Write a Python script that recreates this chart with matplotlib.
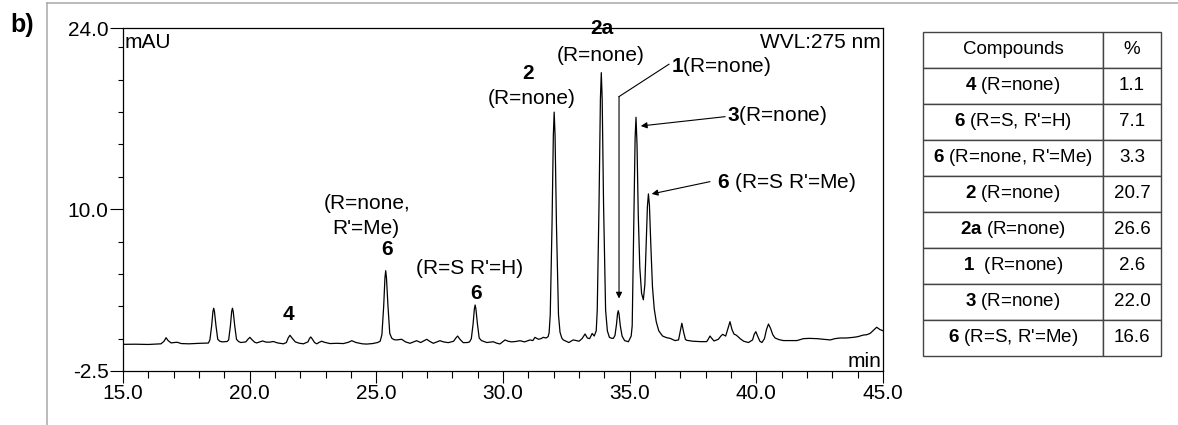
"""HPLC chromatogram with compound table"""
import matplotlib
matplotlib.use('Agg')
import matplotlib.pyplot as plt
from matplotlib.ticker import MultipleLocator, FixedLocator, FormatStrFormatter
from matplotlib.lines import Line2D

plt.rcParams['font.family'] = ['Liberation Sans', 'DejaVu Sans']
plt.rcParams['mathtext.fontset'] = 'custom'
plt.rcParams['mathtext.rm'] = 'Liberation Sans'
plt.rcParams['mathtext.bf'] = 'Liberation Sans:bold'
plt.rcParams['axes.unicode_minus'] = False

# trace (time in min, signal in mAU)
time_min = [
    15.0, 15.5, 16.0, 16.3, 16.5, 16.62, 16.70, 16.78, 16.9, 17.02, 17.14, 17.3, 17.6, 18.04, 18.25,
    18.37, 18.43, 18.50, 18.55, 18.58, 18.61, 18.67, 18.74, 18.82, 18.92,
    19.11, 19.17, 19.24, 19.29, 19.32, 19.35, 19.41, 19.48, 19.56, 19.65,
    19.85, 19.93, 20.01, 20.1, 20.2, 20.28, 20.4, 20.51, 20.65, 20.8, 20.93, 21.1, 21.33,
    21.45, 21.52, 21.59, 21.67, 21.8, 21.95, 22.12,
    22.3, 22.36, 22.41, 22.48, 22.56, 22.65, 22.75, 22.84, 22.95, 23.17, 23.44, 23.7, 23.9,
    24.03, 24.2, 24.45, 24.62, 24.85, 25.05,
    25.15, 25.22, 25.29, 25.34, 25.37, 25.40, 25.46, 25.53, 25.61, 25.7, 25.8, 26.0, 26.15,
    26.33, 26.59, 26.75, 26.99, 27.1, 27.25, 27.51, 27.65, 27.84, 28.05, 28.14, 28.21, 28.3,
    28.43, 28.6, 28.68, 28.75, 28.82, 28.87, 28.9, 28.93, 28.99, 29.06, 29.15, 29.36, 29.62,
    29.75, 29.88, 30.08, 30.2, 30.34, 30.5, 30.67, 30.85, 31.07, 31.18, 31.26, 31.4, 31.5,
    31.59, 31.7, 31.78,
    31.82, 31.865, 31.935, 31.987, 32.02, 32.055, 32.11, 32.19, 32.25, 32.32,
    32.38, 32.6, 32.77, 32.9, 33.0, 33.12, 33.24, 33.33, 33.42, 33.52, 33.6,
    33.68, 33.72, 33.79, 33.845, 33.88, 33.915, 33.97, 34.05, 34.12, 34.2, 34.3, 34.36,
    34.42, 34.48, 34.52, 34.55, 34.58, 34.63, 34.7, 34.8, 34.95,
    35.06, 35.1, 35.16, 35.215, 35.25, 35.29, 35.34, 35.40, 35.47, 35.54,
    35.6, 35.65, 35.7, 35.74, 35.78, 35.84, 35.9, 35.97, 36.05, 36.15, 36.3, 36.45, 36.6,
    36.79, 36.93, 36.99, 37.06, 37.13, 37.2, 37.25, 37.5, 37.78, 38.04, 38.1, 38.17, 38.25,
    38.33, 38.5, 38.6, 38.67, 38.79, 38.88, 38.96, 39.04, 39.12, 39.2, 39.28, 39.36, 39.5,
    39.69, 39.85, 39.92, 39.98, 40.05, 40.14, 40.22, 40.32, 40.4, 40.48, 40.56, 40.65, 40.74,
    40.9, 41.07, 41.3, 41.6, 41.86, 42.1, 42.39, 42.65, 42.92, 43.1, 43.31, 43.55, 43.83,
    44.0, 44.23, 44.35, 44.49, 44.6, 44.75, 44.88, 45.0,
]
signal_mau = [
    -0.44, -0.43, -0.45, -0.42, -0.40, -0.2, 0.07, -0.15, -0.33, -0.3, -0.28, -0.38, -0.4, -0.36, -0.35,
    -0.34, -0.1, 1.0, 2.1, 2.35, 2.1, 1.0, -0.05, -0.2, -0.25,
    -0.22, -0.1, 1.0, 2.1, 2.35, 2.1, 1.0, -0.05, -0.22, -0.3,
    -0.25, -0.05, 0.1, -0.1, -0.28, -0.33, -0.25, -0.18, -0.27, -0.27, -0.22, -0.33, -0.4,
    -0.3, 0.05, 0.26, 0.05, -0.25, -0.35, -0.4,
    -0.25, 0.0, 0.13, -0.05, -0.3, -0.4, -0.28, -0.2, -0.28, -0.38, -0.36, -0.38, -0.28,
    -0.16, -0.3, -0.4, -0.42, -0.38, -0.3,
    -0.2, 0.3, 2.5, 4.7, 5.25, 4.7, 2.5, 0.4, 0.03, -0.08, -0.1, -0.05, -0.25,
    -0.36, -0.16, -0.3, -0.05, -0.2, -0.36, -0.16, -0.25, -0.31, -0.2, 0.05, 0.2, -0.05,
    -0.31, -0.3, -0.25, 0.0, 1.15, 2.3, 2.6, 2.3, 1.15, 0.05, -0.15, -0.3, -0.24,
    -0.35, -0.41, -0.1, -0.2, -0.25, -0.22, -0.16, -0.25, -0.1, -0.15, 0.1, -0.05, 0.0,
    0.1, 0.05, 0.15,
    0.45, 1.85, 8.8, 15.7, 17.5, 15.7, 8.8, 1.85, 0.5, 0.05,
    -0.1, -0.3, -0.1, -0.15, -0.2, 0.0, 0.36, 0.05, 0.0, 0.4, 0.2,
    0.6, 2.2, 10.3, 18.5, 20.55, 18.5, 10.3, 2.2, 0.6, 0.1, 0.02, 0.03,
    0.25, 1.1, 1.9, 2.16, 1.9, 1.0, 0.2, -0.15, -0.24,
    0.2, 1.0, 8.5, 15.5, 17.1, 15.0, 9.5, 5.5, 3.5, 3.0,
    4.2, 7.2, 10.2, 11.18, 10.3, 7.0, 4.0, 2.3, 1.3, 0.6, 0.2, 0.08, 0.02,
    -0.15, -0.1, 0.5, 1.19, 0.5, -0.05, -0.13, -0.2, -0.23, -0.23, -0.05, 0.2, 0.0,
    -0.18, -0.05, 0.2, 0.33, 0.2, 0.8, 1.31, 0.7, 0.35, 0.28, 0.15, 0.0, -0.2,
    -0.3, -0.1, 0.35, 0.54, 0.2, -0.2, -0.3, 0.0, 0.7, 1.13, 0.8, 0.3, 0.05,
    -0.08, -0.15, -0.15, -0.15, 0.0, 0.02, 0.0, -0.05, -0.1, 0.0, 0.05, 0.05, 0.1,
    0.15, 0.28, 0.3, 0.4, 0.6, 0.88, 0.7, 0.61,
]

table_compounds = [r'$\mathbf{4}$ (R=none)', r"$\mathbf{6}$ (R=S, R'=H)",
                   r"$\mathbf{6}$ (R=none, R'=Me)", r'$\mathbf{2}$ (R=none)',
                   r'$\mathbf{2a}$ (R=none)', r'$\mathbf{1}$  (R=none)',
                   r'$\mathbf{3}$ (R=none)', r"$\mathbf{6}$ (R=S, R'=Me)"]
table_percent = ['1.1', '7.1', '3.3', '20.7', '26.6', '2.6', '22.0', '16.6']

W, H = 1178, 425
fig = plt.figure(figsize=(W / 100, H / 100), dpi=100)
ax = fig.add_axes([123 / W, 1 - 371 / H, (883 - 123) / W, (371 - 28) / H])

ax.plot(time_min, signal_mau, color='black', lw=0.9)
ax.set_xlim(15, 45)
ax.set_ylim(-2.5, 24)

ax.xaxis.set_major_locator(MultipleLocator(5))
ax.xaxis.set_minor_locator(MultipleLocator(1))
ax.xaxis.set_major_formatter(FormatStrFormatter('%.1f'))
ax.yaxis.set_major_locator(FixedLocator([-2.5, 10.0, 24.0]))
ax.yaxis.set_minor_locator(MultipleLocator(2.5))
ax.yaxis.set_major_formatter(FormatStrFormatter('%.1f'))
ax.tick_params(axis='both', which='major', direction='out', labelsize=15, width=0.8, pad=1)
ax.tick_params(axis='x', which='major', length=8.5)
ax.tick_params(axis='x', which='minor', length=5, width=0.8)
ax.tick_params(axis='y', which='major', length=9.4)
ax.tick_params(axis='y', which='minor', length=3.4, width=0.8)
for sp in ax.spines.values():
    sp.set_linewidth(0.9)

fs = 15
ax.text(15.08, 22.9, 'mAU', fontsize=fs, ha='left', va='center')
ax.text(44.92, 22.9, 'WVL:275 nm', fontsize=fs, ha='right', va='center')
ax.text(44.92, -1.73, 'min', fontsize=fs, ha='right', va='center')

# peak labels
ax.text(21.53, 1.83, '4', fontsize=fs, fontweight='bold', ha='center', va='center')
ax.text(24.65, 10.46, '(R=none,', fontsize=fs, ha='center', va='center')
ax.text(24.6, 8.53, "R'=Me)", fontsize=fs, ha='center', va='center')
ax.text(25.43, 6.9, '6', fontsize=fs, fontweight='bold', ha='center', va='center')
ax.text(28.67, 5.44, "(R=S R'=H)", fontsize=fs, ha='center', va='center')
ax.text(28.94, 3.45, '6', fontsize=fs, fontweight='bold', ha='center', va='center')
ax.text(31.0, 20.5, '2', fontsize=fs, fontweight='bold', ha='center', va='center')
ax.text(31.13, 18.52, '(R=none)', fontsize=fs, ha='center', va='center')
ax.text(33.9, 24.0, '2a', fontsize=fs, fontweight='bold', ha='center', va='center')
ax.text(33.84, 21.9, '(R=none)', fontsize=fs, ha='center', va='center')
ax.text(36.62, 21.0, r'$\mathbf{1}$(R=none)', fontsize=fs, ha='left', va='center')
ax.text(38.83, 17.23, r'$\mathbf{3}$(R=none)', fontsize=fs, ha='left', va='center')
ax.text(38.44, 12.05, r"$\mathbf{6}$ (R=S R'=Me)", fontsize=fs, ha='left', va='center')

arrow = dict(arrowstyle='-|>', color='black', lw=0.8, mutation_scale=9, shrinkA=0, shrinkB=0)
ax.plot([36.55, 34.58], [21.2, 18.7], color='black', lw=0.8)
ax.annotate('', xy=(34.58, 3.1), xytext=(34.58, 18.7), arrowprops=arrow)
ax.annotate('', xy=(35.44, 16.43), xytext=(38.77, 17.15), arrowprops=arrow)
ax.annotate('', xy=(35.87, 11.18), xytext=(38.17, 12.13), arrowprops=arrow)

# compound table
tab_ax = fig.add_axes([923 / W, 1 - 356 / H, (1161 - 923) / W, (356 - 32) / H])
tab_ax.axis('off')
rows = [[c, p] for c, p in zip(table_compounds, table_percent)]
tbl = tab_ax.table(cellText=rows, colLabels=['Compounds', '%'], cellLoc='center',
                   colWidths=[180 / 238, 58 / 238], bbox=[0, 0, 1, 1])
tbl.auto_set_font_size(False)
for cell in tbl.get_celld().values():
    cell.set_edgecolor('#444444')
    cell.set_linewidth(1.0)
    cell.get_text().set_fontsize(13.5)

# panel frame and label
fig.add_artist(Line2D([47 / W, 47 / W], [0, 1 - 3 / H], color='#a8a8a8', lw=1.1))
fig.add_artist(Line2D([47 / W, 1], [1 - 3 / H, 1 - 3 / H], color='#a8a8a8', lw=1.1))
fig.text(10 / W, 1 - 25 / H, 'b)', fontsize=18, fontweight='bold', ha='left', va='center')

fig.savefig('out.png', dpi=100)
